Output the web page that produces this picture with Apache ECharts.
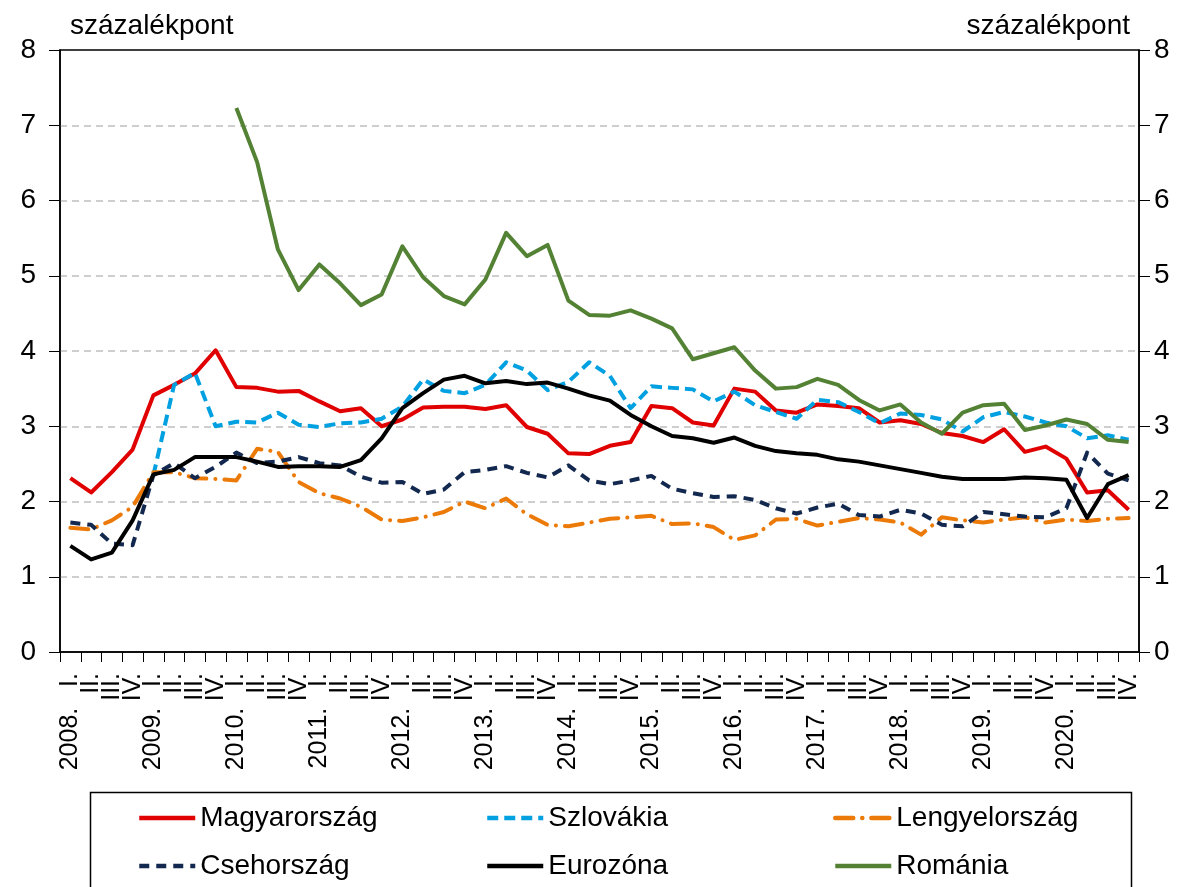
<!DOCTYPE html>
<html>
<head>
<meta charset="utf-8">
<script src="https://cdn.jsdelivr.net/npm/echarts@6.0.0/dist/echarts.min.js"></script>
<style>
  html, body { margin: 0; padding: 0; background: #fff; }
  #chart { width: 1192px; height: 887px; }
</style>
</head>
<body>
<div id="chart"></div>
<script>
// negyedéves adatok, 2008 I. - 2020 IV.
const years = ['2008.', '2009.', '2010.', '2011.', '2012.', '2013.', '2014.',
  '2015.', '2016.', '2017.', '2018.', '2019.', '2020.'];
const quarterNames = ['I.', 'II.', 'III.', 'IV.'];

const magyarorszag = [2.31, 2.12, 2.39, 2.69, 3.41, 3.55, 3.70, 4.01, 3.52, 3.51, 3.46, 3.47,
  3.33, 3.20, 3.24, 3.00, 3.09, 3.25, 3.26, 3.26, 3.23, 3.28, 2.99, 2.90,
  2.64, 2.63, 2.74, 2.79, 3.27, 3.24, 3.05, 3.01, 3.50, 3.46, 3.21, 3.18,
  3.29, 3.27, 3.24, 3.05, 3.08, 3.03, 2.91, 2.87, 2.79, 2.96, 2.66, 2.73,
  2.57, 2.12, 2.15, 1.89];
const szlovakia = [null, null, null, null, 2.35, 3.55, 3.71, 3.00, 3.06, 3.05, 3.18, 3.02,
  2.99, 3.04, 3.05, 3.10, 3.26, 3.62, 3.47, 3.44, 3.55, 3.85, 3.74, 3.48,
  3.59, 3.85, 3.67, 3.24, 3.53, 3.51, 3.49, 3.33, 3.46, 3.28, 3.19, 3.10,
  3.35, 3.32, 3.19, 3.04, 3.17, 3.15, 3.09, 2.93, 3.12, 3.19, 3.13, 3.05,
  3.00, 2.84, 2.88, 2.82];
const lengyelorszag = [1.65, 1.63, 1.75, 1.93, 2.39, 2.39, 2.31, 2.30, 2.28, 2.70, 2.66, 2.26,
  2.11, 2.04, 1.93, 1.76, 1.74, 1.79, 1.86, 2.00, 1.91, 2.04, 1.83, 1.69,
  1.67, 1.72, 1.77, 1.79, 1.81, 1.70, 1.71, 1.66, 1.49, 1.55, 1.76, 1.77,
  1.68, 1.73, 1.78, 1.76, 1.72, 1.56, 1.79, 1.75, 1.72, 1.76, 1.79, 1.72,
  1.76, 1.74, 1.77, 1.78];
const csehorszag = [1.72, 1.69, 1.44, 1.42, 2.35, 2.51, 2.31, 2.46, 2.65, 2.51, 2.53, 2.59,
  2.51, 2.48, 2.33, 2.25, 2.26, 2.10, 2.16, 2.39, 2.42, 2.47, 2.38, 2.32,
  2.48, 2.28, 2.23, 2.28, 2.34, 2.17, 2.11, 2.06, 2.07, 2.02, 1.91, 1.84,
  1.92, 1.97, 1.82, 1.80, 1.89, 1.84, 1.69, 1.67, 1.86, 1.83, 1.80, 1.79,
  1.91, 2.65, 2.37, 2.28];
const eurozona = [1.41, 1.23, 1.32, 1.75, 2.36, 2.42, 2.59, 2.59, 2.59, 2.53, 2.46, 2.47,
  2.47, 2.46, 2.55, 2.84, 3.24, 3.44, 3.62, 3.67, 3.57, 3.60, 3.56, 3.58,
  3.50, 3.41, 3.34, 3.15, 3.00, 2.87, 2.84, 2.78, 2.85, 2.74, 2.67, 2.64,
  2.62, 2.56, 2.53, 2.48, 2.43, 2.38, 2.33, 2.30, 2.30, 2.30, 2.32, 2.31,
  2.29, 1.78, 2.23, 2.35];
const romania = [null, null, null, null, null, null, null, null, 7.23, 6.51, 5.35, 4.81,
  5.15, 4.90, 4.61, 4.75, 5.39, 4.98, 4.73, 4.62, 4.95, 5.57, 5.26, 5.41,
  4.67, 4.48, 4.47, 4.54, 4.43, 4.30, 3.89, 3.97, 4.05, 3.74, 3.50, 3.52,
  3.63, 3.55, 3.35, 3.21, 3.29, 3.05, 2.90, 3.18, 3.28, 3.30, 2.95, 3.01,
  3.09, 3.03, 2.82, 2.79];

const categories = [];
years.forEach(y => {
  quarterNames.forEach((q, i) => {
    categories.push(i === 0 ? y + '   ' + q : q);
  });
});

const FONT = 'Liberation Sans';

const chart = echarts.init(document.getElementById('chart'), null, { renderer: 'canvas' });

const lineSeries = (name, data, color, width, type, cap) => ({
  name: name,
  type: 'line',
  data: data,
  symbol: 'none',
  smooth: false,
  connectNulls: false,
  lineStyle: { color: color, width: width, type: type, cap: cap || 'butt', join: 'round' },
  itemStyle: { color: color },
  emphasis: { disabled: true }
});

const legendBase = {
  orient: 'vertical',
  top: 803,
  padding: 0,
  itemWidth: 56,
  itemHeight: 14,
  itemGap: 18,
  selectedMode: false,
  itemStyle: { opacity: 0 },
  lineStyle: { width: 4.5 },
  textStyle: { fontFamily: FONT, fontSize: 28, color: '#000', lineHeight: 30 }
};

const option = {
  backgroundColor: '#fff',
  animation: false,
  grid: {
    left: 60, right: 53, top: 50, bottom: 235,
    show: true, borderColor: '#000', borderWidth: 1.5, backgroundColor: 'transparent'
  },
  xAxis: {
    type: 'category',
    data: categories,
    boundaryGap: true,
    axisLine: { lineStyle: { color: '#000', width: 1.5 } },
    axisTick: { show: true, interval: 0, length: 10, lineStyle: { color: '#000', width: 1 } },
    axisLabel: {
      interval: 0, rotate: 90, margin: 21,
      fontFamily: FONT, fontSize: 25, color: '#000'
    },
    splitLine: { show: false }
  },
  yAxis: [
    {
      type: 'value', position: 'left', min: 0, max: 8, interval: 1,
      axisLine: { show: true, lineStyle: { color: '#000', width: 1.5 } },
      axisTick: { show: true, length: 11, lineStyle: { color: '#000', width: 1 } },
      axisLabel: { margin: 24, fontFamily: FONT, fontSize: 28, color: '#000' },
      splitLine: {
        show: true, showMinLine: false, showMaxLine: false,
        lineStyle: { color: '#bfbfbf', width: 1.5, type: [7, 5] }
      }
    },
    {
      type: 'value', position: 'right', min: 0, max: 8, interval: 1,
      axisLine: { show: true, lineStyle: { color: '#000', width: 1.5 } },
      axisTick: { show: true, length: 11, lineStyle: { color: '#000', width: 1 } },
      axisLabel: { margin: 15, fontFamily: FONT, fontSize: 28, color: '#000' },
      splitLine: { show: false }
    }
  ],
  legend: [
    Object.assign({}, legendBase, { left: 137, data: ['Magyarország', 'Csehország'] }),
    Object.assign({}, legendBase, { left: 485, data: ['Szlovákia', 'Eurozóna'] }),
    Object.assign({}, legendBase, { left: 833, data: ['Lengyelország', 'Románia'] })
  ],
  graphic: [
    {
      type: 'text', left: 70, top: 12,
      style: { text: 'százalékpont', font: '28px "Liberation Sans"', fill: '#000' }
    },
    {
      type: 'text', right: 62, top: 12,
      style: { text: 'százalékpont', font: '28px "Liberation Sans"', fill: '#000' }
    },
    {
      type: 'rect', silent: true,
      shape: { x: 90.5, y: 792.5, width: 1041, height: 200 },
      style: { fill: 'none', stroke: '#000', lineWidth: 1.5 }
    }
  ],
  series: [
    lineSeries('Magyarország', magyarorszag, '#e00000', 4, 'solid'),
    lineSeries('Szlovákia', szlovakia, '#00a0e1', 4, [11, 6]),
    lineSeries('Lengyelország', lengyelorszag, '#ec7a08', 4, [18, 9, 0.1, 9], 'round'),
    lineSeries('Csehország', csehorszag, '#13284f', 4, [10, 7]),
    lineSeries('Eurozóna', eurozona, '#000000', 4, 'solid'),
    lineSeries('Románia', romania, '#548235', 4, 'solid')
  ]
};

chart.setOption(option);
</script>
</body>
</html>
